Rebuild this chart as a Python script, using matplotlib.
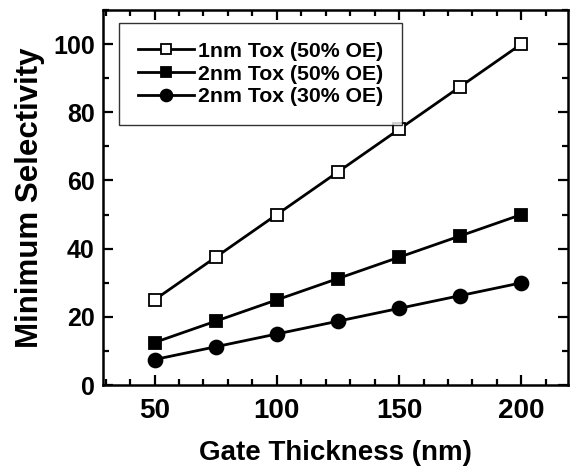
import matplotlib

matplotlib.use("Agg")
import matplotlib.pyplot as plt
from matplotlib.ticker import MultipleLocator

# data
thickness = [50, 75, 100, 125, 150, 175, 200]
sel_1nm_50 = [25, 37.5, 50, 62.5, 75, 87.5, 100]
sel_2nm_50 = [12.5, 18.75, 25, 31.25, 37.5, 43.75, 50]
sel_2nm_30 = [7.5, 11.25, 15, 18.75, 22.5, 26.25, 30]
labels = ["1nm Tox (50% OE)", "2nm Tox (50% OE)", "2nm Tox (30% OE)"]

plt.rcParams["font.family"] = ["Liberation Sans", "DejaVu Sans"]
plt.rcParams["font.weight"] = "bold"

fig = plt.figure(figsize=(5.73, 4.72), dpi=100)
ax = fig.add_axes([0.18, 0.184, 0.811, 0.795])

style = dict(color="black", linewidth=2.0, markeredgewidth=1.3)
ax.plot(thickness, sel_1nm_50, marker="s", markersize=9, markerfacecolor="white",
        markeredgecolor="black", label=labels[0], **style)
ax.plot(thickness, sel_2nm_50, marker="s", markersize=9, markerfacecolor="black",
        label=labels[1], **style)
ax.plot(thickness, sel_2nm_30, marker="o", markersize=10, markerfacecolor="black",
        label=labels[2], **style)

ax.set_xlim(29, 219)
ax.set_ylim(0, 110)
ax.xaxis.set_major_locator(MultipleLocator(50))
ax.xaxis.set_minor_locator(MultipleLocator(10))
ax.yaxis.set_major_locator(MultipleLocator(20))
ax.yaxis.set_minor_locator(MultipleLocator(10))
ax.tick_params(which="both", direction="in", top=True, right=True, width=1.6)
ax.tick_params(which="major", length=7)
ax.tick_params(which="minor", length=4)
ax.tick_params(axis="x", which="major", labelsize=20, pad=9)
ax.tick_params(axis="y", which="major", labelsize=18, pad=6)
for lab in ax.get_xticklabels() + ax.get_yticklabels():
    lab.set_fontweight("bold")
for sp in ax.spines.values():
    sp.set_linewidth(1.8)

ax.set_xlabel("Gate Thickness (nm)", fontsize=20, fontweight="bold", labelpad=12)
ax.set_ylabel("Minimum Selectivity", fontsize=22.5, fontweight="bold", labelpad=6)

leg = ax.legend(loc="upper left", bbox_to_anchor=(0.012, 0.994), fancybox=False,
                edgecolor="black", handlelength=2.6, handletextpad=0.2,
                borderpad=0.9, labelspacing=0.17, markerscale=0.85,
                prop={"weight": "bold", "size": 15.3})
leg.get_frame().set_linewidth(1.0)

fig.savefig("out.png", dpi=100)
